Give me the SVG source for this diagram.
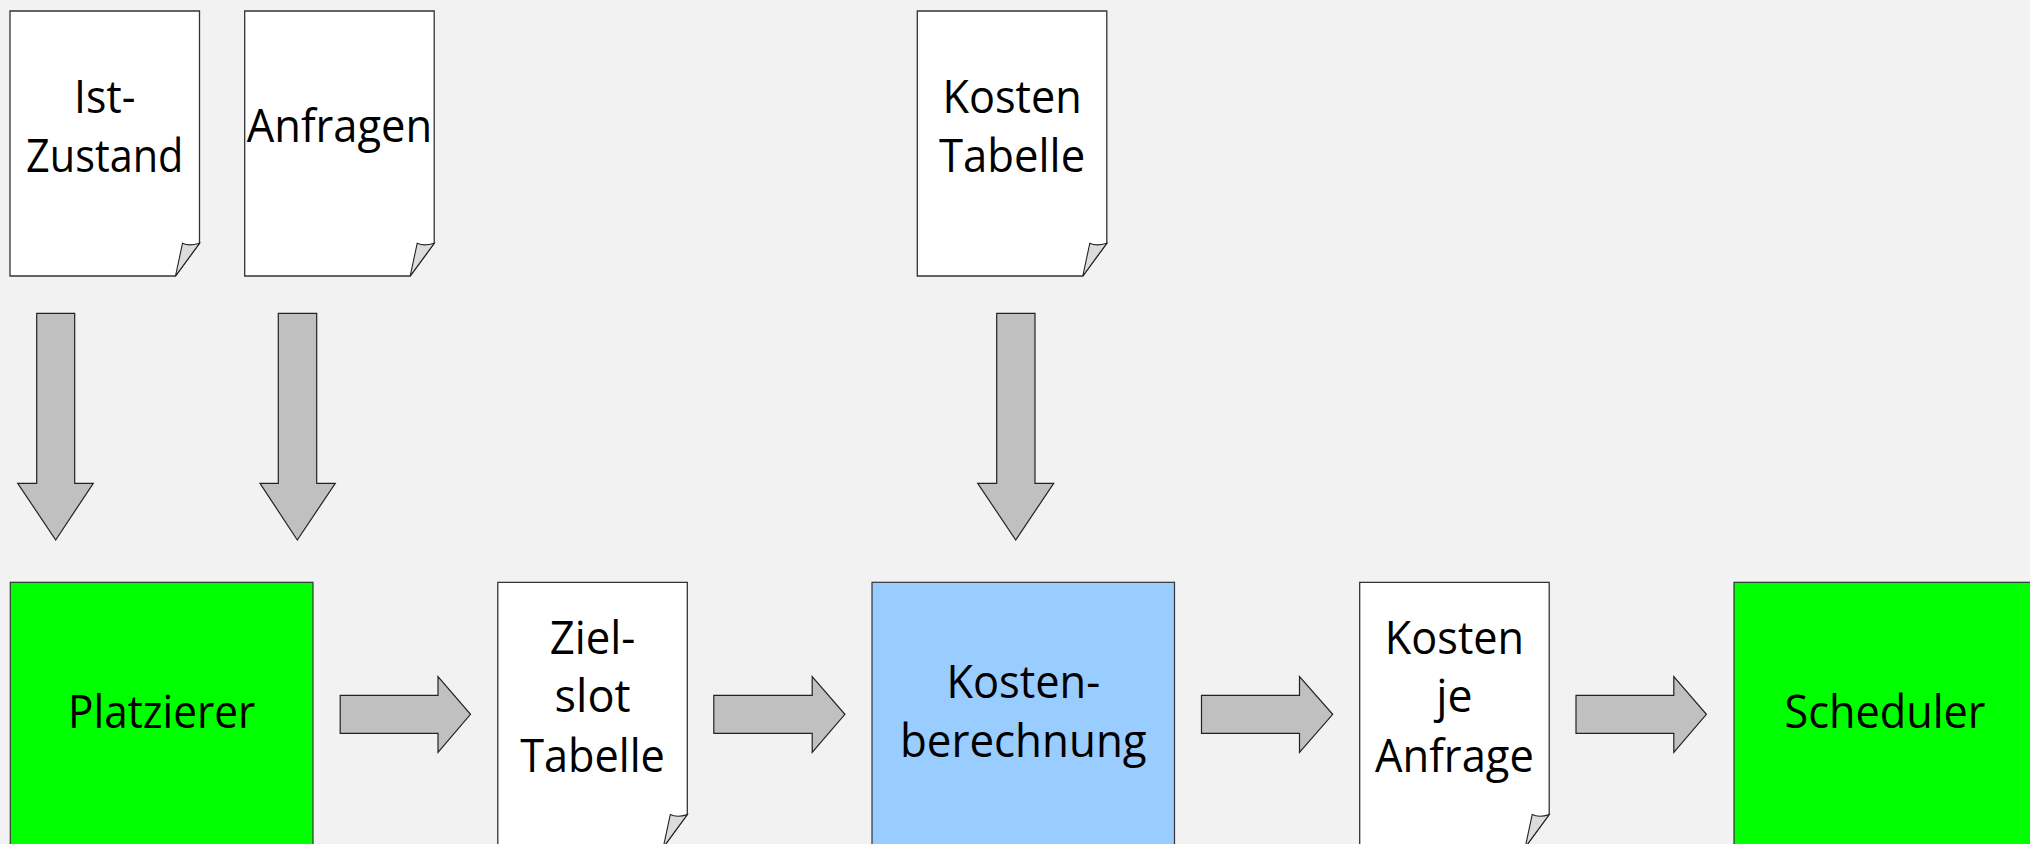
<svg xmlns="http://www.w3.org/2000/svg" width="2030" height="844" viewBox="0 0 2030 844">
  <defs>
    <style>
      .bg { fill: #f2f2f2; }
      .doc { fill: #ffffff; stroke: #333333; stroke-width: 1.3; stroke-linejoin: miter; }
      .flap { fill: #dcdcdc; stroke: #222222; stroke-width: 1.1; stroke-linejoin: miter; }
      .proc-green { fill: #00ff00; stroke: #333333; stroke-width: 1.2; }
      .proc-blue { fill: #99ccff; stroke: #333333; stroke-width: 1.2; }
      .flow { fill: #c0c0c0; stroke: #222222; stroke-width: 1.2; stroke-linejoin: miter; }
      .lbl { font-family: "Open Sans", "Noto Sans", "DejaVu Sans", sans-serif; font-size: 46px; fill: #000000; text-anchor: middle; }
    </style>
    <!-- page with a dog-eared lower right corner, 189.5 x 265 -->
    <path id="docPage" d="M0,0 H189.5 V232.3 L165.5,265 H0 Z"/>
    <path id="docFlap" d="M165.5,265 L172.5,232.3 Q179,235.5 189.5,232.3 Z"/>
  </defs>

  <rect class="bg" x="0" y="0" width="2030" height="844"/>

  <!-- input documents (labels slightly condensed horizontally) -->
  <g id="doc-ist-zustand" transform="translate(10,11)">
    <use href="#docPage" class="doc"/>
    <use href="#docFlap" class="flap"/>
    <text class="lbl" transform="translate(94.75,101.7) scale(0.93,1)">Ist-</text>
    <text class="lbl" transform="translate(94.75,160.7) scale(0.9,1)">Zustand</text>
  </g>

  <g id="doc-anfragen" transform="translate(244.7,11)">
    <use href="#docPage" class="doc"/>
    <use href="#docFlap" class="flap"/>
    <text class="lbl" transform="translate(94.75,130.7) scale(0.945,1)">Anfragen</text>
  </g>

  <g id="doc-kosten-tabelle" transform="translate(917.3,11)">
    <use href="#docPage" class="doc"/>
    <use href="#docFlap" class="flap"/>
    <text class="lbl" transform="translate(94.75,102.3) scale(0.94,1)">Kosten</text>
    <text class="lbl" transform="translate(94.75,160.7) scale(0.95,1)">Tabelle</text>
  </g>

  <!-- processing chain -->
  <g id="node-platzierer">
    <rect class="proc-green" x="10.3" y="582.3" width="302.7" height="300"/>
    <text class="lbl" transform="translate(161.7,728.3) scale(0.92,1)">Platzierer</text>
  </g>

  <g id="doc-zielslot-tabelle" transform="translate(497.8,582.3)">
    <use href="#docPage" class="doc"/>
    <use href="#docFlap" class="flap"/>
    <text class="lbl" transform="translate(94.75,72) scale(0.95,1)">Ziel-</text>
    <text class="lbl" transform="translate(94.75,130) scale(0.98,1)">slot</text>
    <text class="lbl" transform="translate(94.75,189.4) scale(0.94,1)">Tabelle</text>
  </g>

  <g id="node-kostenberechnung">
    <rect class="proc-blue" x="872" y="582.3" width="302.5" height="300"/>
    <text class="lbl" transform="translate(1023.3,698.3) scale(0.944,1)">Kosten-</text>
    <text class="lbl" transform="translate(1023.3,756.7) scale(0.955,1)">berechnung</text>
  </g>

  <g id="doc-kosten-je-anfrage" transform="translate(1359.7,582.3)">
    <use href="#docPage" class="doc"/>
    <use href="#docFlap" class="flap"/>
    <text class="lbl" transform="translate(94.75,72) scale(0.94,1)">Kosten</text>
    <text class="lbl" transform="translate(94.75,130) scale(0.97,1)">je</text>
    <text class="lbl" transform="translate(94.75,189.4) scale(0.946,1)">Anfrage</text>
  </g>

  <g id="node-scheduler">
    <rect class="proc-green" x="1734" y="582.3" width="302.5" height="300"/>
    <text class="lbl" transform="translate(1885,728.3) scale(0.94,1)">Scheduler</text>
  </g>

  <!-- block arrows between the steps -->
  <g id="connectors">
    <path class="flow" d="M36.7,313.3 H74.7 V483.3 H93.3 L55.7,540 L17.7,483.3 H36.7 Z"/>
    <path class="flow" d="M278.3,313.3 H316.7 V483.3 H335.3 L297.3,540 L260,483.3 H278.3 Z"/>
    <path class="flow" d="M996.7,313.3 H1035 V483.3 H1053.7 L1015.7,540 L977.7,483.3 H996.7 Z"/>

    <path class="flow" d="M340.2,695.3 H438 V676.7 L470.5,714.3 L438,752.3 V733.3 H340.2 Z"/>
    <path class="flow" d="M713.8,695.3 H812.2 V676.7 L844.9,714.3 L812.2,752.3 V733.3 H713.8 Z"/>
    <path class="flow" d="M1201.5,695.3 H1299.5 V676.7 L1332.7,714.3 L1299.5,752.3 V733.3 H1201.5 Z"/>
    <path class="flow" d="M1576,695.3 H1673.8 V676.7 L1706.4,714.3 L1673.8,752.3 V733.3 H1576 Z"/>
  </g>
</svg>
